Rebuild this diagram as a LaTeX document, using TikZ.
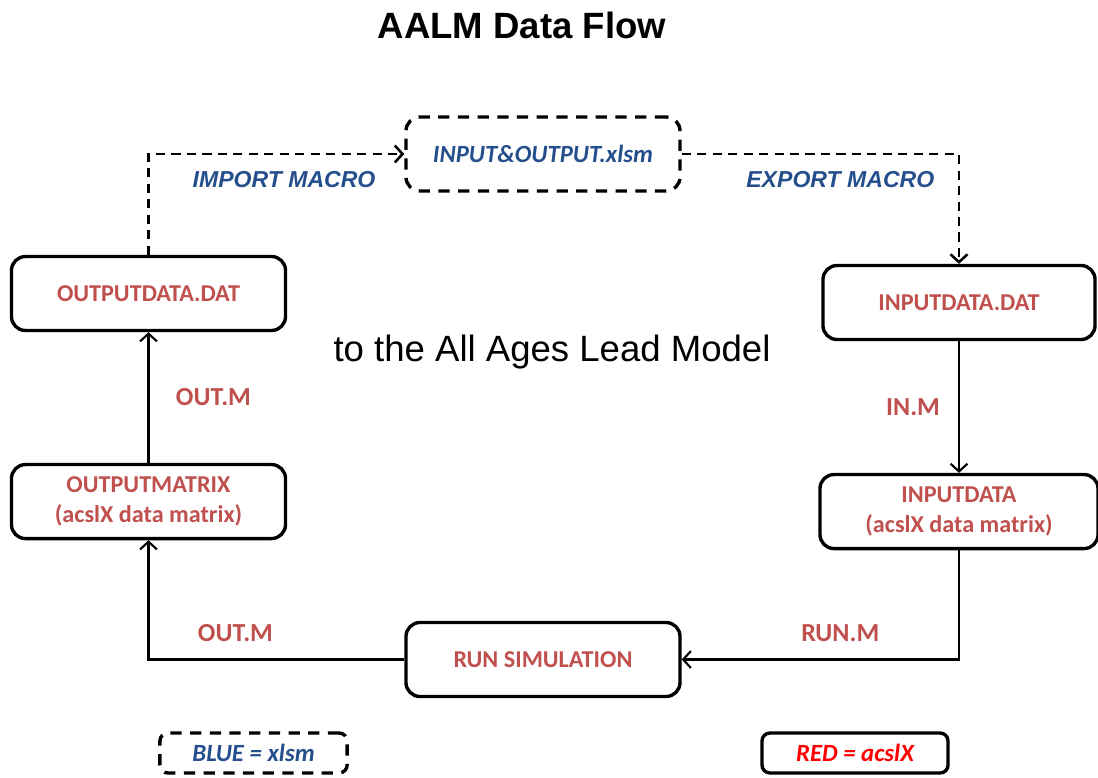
\documentclass[tikz,border=0pt]{standalone}
\usepackage{fontspec}
\setmainfont{Liberation Sans}
\newfontfamily\calfont{Carlito}
\usetikzlibrary{arrows.meta,positioning}
\definecolor{boxred}{RGB}{192,80,77}
\definecolor{macroblue}{RGB}{37,79,140}
\definecolor{keyred}{RGB}{255,0,0}
\tikzstyle{block} = [draw, rectangle, rounded corners=0.35cm, line width=2.4pt, minimum width=6.85cm, minimum height=1.85cm, align=center, text=boxred, font=\calfont\bfseries\fontsize{17.2}{21}\selectfont]
\tikzstyle{xlsmblock} = [block, dash pattern=on 8pt off 6pt, text=macroblue, font=\calfont\bfseries\itshape\fontsize{17.6}{20}\selectfont]
\tikzstyle{flow} = [line width=1.5pt]
\tikzstyle{macroflow} = [flow, line width=1.8pt, dash pattern=on 6.5pt off 4.5pt]
\tikzstyle{mlabel} = [text=boxred, font=\calfont\bfseries\fontsize{18.5}{20}\selectfont, inner sep=0pt]
\tikzstyle{macrolabel} = [text=macroblue, font=\bfseries\itshape\fontsize{16.4}{18}\selectfont, inner sep=0pt]

\begin{document}
\begin{tikzpicture}[x=0.025cm, y=-0.025cm, >={Straight Barb[length=5.5pt,width=12pt]}]
\useasboundingbox (0,0) rectangle (1098,777);

\node [font=\bfseries\fontsize{26}{30}\selectfont] (title) at (522,25) {AALM Data Flow};

\node [xlsmblock] (workbook) at (543,154) {INPUT\&OUTPUT.xlsm};
\node [block] (outdat) at (148.5,293.5) {OUTPUTDATA.DAT};
\node [block, below of=outdat, node distance=5.2cm] (outmatrix) {OUTPUTMATRIX\\(acslX data matrix)};
\node [block, minimum width=6.8cm] (indat) at (959,302.5) {INPUTDATA.DAT};
\node [block, minimum width=6.95cm, below of=indat, node distance=5.225cm] (indata) {INPUTDATA\\(acslX data matrix)};
\node [block] (runsim) at (543,659.5) {RUN SIMULATION};

\node [font=\fontsize{26}{30}\selectfont] (modelname) at (552,352) {to the All Ages Lead Model};

% one run of the model
\draw [flow, ->] (indat) -- node [mlabel, left=0.45cm] {IN.M} (indata);
\draw [flow, ->] (indata) |- node [mlabel, pos=0.714, above=0.42cm] {RUN.M} (runsim);
\draw [flow, ->] (runsim) -| node [mlabel, pos=0.33, above=0.42cm] {OUT.M} (outmatrix);
\draw [flow, ->] (outmatrix) -- node [mlabel, right=0.66cm] {OUT.M} (outdat);

% macros of the workbook
\draw [macroflow, ->] (outdat) |- node [macrolabel, pos=0.765, below=0.4cm] {IMPORT MACRO} (workbook);
\draw [macroflow, ->] (workbook) -| node [macrolabel, pos=0.286, below=0.4cm] {EXPORT MACRO} (indat);

% key
\node [xlsmblock, minimum width=4.68cm, minimum height=1cm, rounded corners=0.2cm] (bluekey) at (253.5,753) {BLUE = xlsm};
\node [block, minimum width=4.65cm, minimum height=1cm, rounded corners=0.2cm, text=keyred, font=\calfont\bfseries\itshape\fontsize{17.6}{20}\selectfont] (redkey) at (855,753) {RED = acslX};
\end{tikzpicture}
\end{document}
